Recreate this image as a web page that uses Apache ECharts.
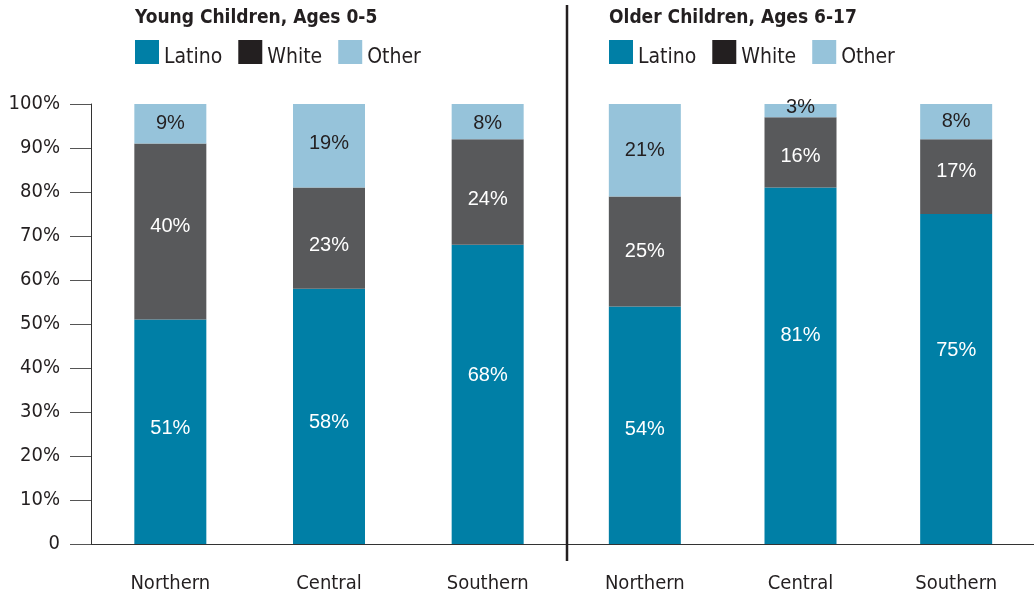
<!DOCTYPE html>
<html style="height: 100%">
<head>
    <meta charset="utf-8">
    <title>Children by Region</title>
</head>
<body style="height: 100%; margin: 0; background: #fff">
    <div id="container" style="width: 1034px; height: 597px"></div>
    <script src="https://cdn.jsdelivr.net/npm/echarts@6/dist/echarts.min.js"></script>
    <script type="text/javascript">
        var regions = ['Northern', 'Central', 'Southern'];
        var groupTitles = ['Young Children, Ages 0-5', 'Older Children, Ages 6-17'];
        var groupNames = ['Latino', 'White', 'Other'];

        // share of children, percent
        var youngLatino = [51, 58, 68];
        var youngWhite = [40, 23, 24];
        var youngOther = [9, 19, 8];
        var olderLatino = [54, 81, 75];
        var olderWhite = [25, 16, 17];
        var olderOther = [21, 3, 8];

        var barColors = ['#007fa6', '#58595b', '#96c3da'];
        var legendColors = ['#007fa6', '#231f20', '#96c3da'];
        var labelColors = ['#fff', '#fff', '#231f20'];
        var ink = '#231f20';
        var narrow = '"Liberation Sans Narrow", "DejaVu Sans Condensed", sans-serif';

        // the original places some value labels off-centre (pixels, +down)
        var labelNudge = [
            [[-3, 6, -19], [-5, 7, 7], [0, -2, 2]],
            [[4, -30, -29], [0, 4, -5], [0, -3, 0]]
        ];

        var myChart = echarts.init(document.getElementById('container'));

        function makeSeries(values, i, gi) {
            return {
                name: groupNames[i],
                type: 'bar',
                stack: 'g' + gi,
                xAxisIndex: gi,
                yAxisIndex: gi,
                barWidth: 72,
                data: values.map(function (v, k) {
                    return { value: v, label: { offset: [0, labelNudge[gi][i][k]] } };
                }),
                itemStyle: { color: barColors[i] },
                label: {
                    show: true,
                    position: 'inside',
                    formatter: '{c}%',
                    color: labelColors[i],
                    fontSize: 20,
                    fontFamily: 'Liberation Sans, sans-serif'
                },
                emphasis: { disabled: true }
            };
        }

        var legendData = groupNames.map(function (n, i) {
            return { name: n, itemStyle: { color: legendColors[i] } };
        });

        function makeLegend(left) {
            return {
                left: left,
                top: 40,
                padding: 0,
                itemWidth: 24,
                itemHeight: 24,
                itemGap: 16,
                selectedMode: false,
                icon: 'rect',
                data: legendData,
                formatter: '{t|{name}}',
                textStyle: {
                    color: ink,
                    fontSize: 21,
                    fontFamily: narrow,
                    rich: { t: { color: ink, fontSize: 21, fontFamily: narrow, padding: [11, 0, 0, 0] } }
                }
            };
        }

        function makeXAxis(gi) {
            return {
                type: 'category',
                gridIndex: gi,
                data: regions,
                axisLine: { lineStyle: { color: '#333', width: 1 } },
                axisTick: { length: 17, lineStyle: { color: '#333' } },
                axisLabel: { color: ink, fontSize: 20, margin: 30, fontFamily: narrow }
            };
        }

        function makeTitle(text, left) {
            return {
                text: text,
                left: left,
                top: 9,
                padding: 0,
                textStyle: { color: ink, fontSize: 19, fontWeight: 'bold', fontFamily: narrow }
            };
        }

        var option = {
            animation: false,
            title: [makeTitle(groupTitles[0], 135), makeTitle(groupTitles[1], 609)],
            legend: [makeLegend(135), makeLegend(609)],
            grid: [
                { left: 91, top: 104, width: 476, bottom: 53 },
                { left: 567, top: 104, width: 474, bottom: 53 }
            ],
            xAxis: [makeXAxis(0), makeXAxis(1)],
            yAxis: [{
                type: 'value',
                gridIndex: 0,
                min: 0,
                max: 100,
                interval: 10,
                splitLine: { show: false },
                axisLine: { show: true, lineStyle: { color: '#333' } },
                axisTick: { show: true, length: 21, lineStyle: { color: '#555' } },
                axisLabel: {
                    color: ink,
                    fontSize: 20,
                    margin: 31,
                    fontFamily: narrow,
                    formatter: function (v) { return v === 0 ? '0' : v + '%'; }
                }
            }, {
                type: 'value',
                gridIndex: 1,
                min: 0,
                max: 100,
                interval: 10,
                show: false
            }],
            graphic: [{
                type: 'line',
                shape: { x1: 567, y1: 5, x2: 567, y2: 561 },
                style: { stroke: ink, lineWidth: 2.5 },
                z: 100
            }],
            series: [
                makeSeries(youngLatino, 0, 0),
                makeSeries(youngWhite, 1, 0),
                makeSeries(youngOther, 2, 0),
                makeSeries(olderLatino, 0, 1),
                makeSeries(olderWhite, 1, 1),
                makeSeries(olderOther, 2, 1)
            ]
        };
        myChart.setOption(option);
    </script>
</body>
</html>
